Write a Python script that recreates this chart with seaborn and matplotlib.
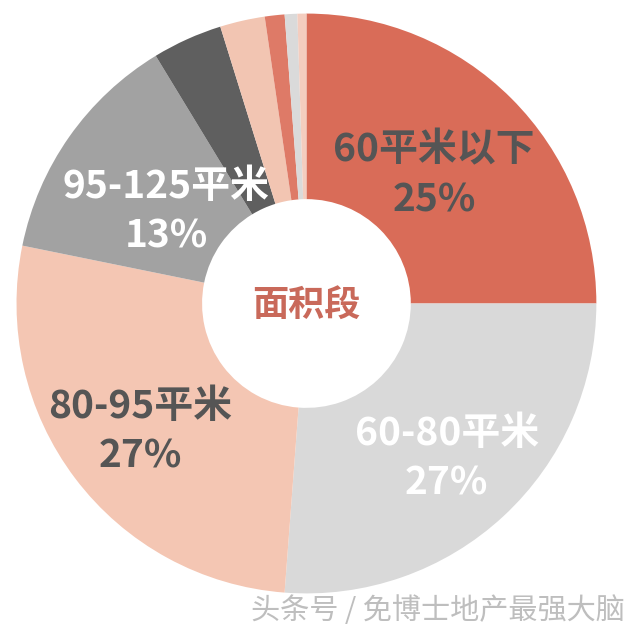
import matplotlib
matplotlib.use("Agg")
import matplotlib.pyplot as plt
import seaborn as sns

# 面积段 shares (clockwise from 12 o'clock)
segments = ["60平米以下", "60-80平米", "80-95平米", "95-125平米",
            "125-144平米", "144-180平米", "180-240平米", "240-300平米", "300平米以上"]
shares = [25, 26.2, 27, 13.1, 3.9, 2.5, 1.1, 0.7, 0.5]
colors = ["#D96C58", "#D9D9D9", "#F4C6B3", "#A2A2A2", "#5F5F5F",
          "#F2C5B2", "#DE7A67", "#DADADA", "#F4CDBF"]

labels = ["60平米以下\n25%", "60-80平米\n27%", "80-95平米\n27%", "95-125平米\n13%"]
label_pos = [(0.44, 0.443), (0.484, -0.534), (-0.574, -0.441), (-0.484, 0.319)]
label_colors = ["#555555", "white", "#555555", "white"]

sns.set_theme(style="white")
plt.rcParams["font.family"] = ["Noto Sans CJK SC", "DejaVu Sans"]

fig = plt.figure(figsize=(6.4, 6.34), dpi=100)
ax = fig.add_axes([0.0258, 0.0639, 0.906, 0.9148])
ax.pie(shares, colors=colors, startangle=90, counterclock=False, radius=1,
       wedgeprops=dict(width=0.64, linewidth=0))
ax.set_xlim(-1, 1)
ax.set_ylim(-1, 1)
ax.set_aspect("equal")
ax.axis("off")

for txt, (x, y), c in zip(labels, label_pos, label_colors):
    ax.text(x, y, txt, ha="center", va="center", fontsize=28, fontweight="heavy",
            color=c, linespacing=1.35)

ax.text(0, -0.01, "面积段", ha="center", va="center", fontsize=26,
        fontweight="bold", color="#C9695A")

fig.text(0.977, 0.036, "头条号 / 免博士地产最强大脑", ha="right", va="center",
         fontsize=21, color="#BEBEBE", fontweight="light")

fig.savefig("out.png", dpi=100, facecolor="white")
